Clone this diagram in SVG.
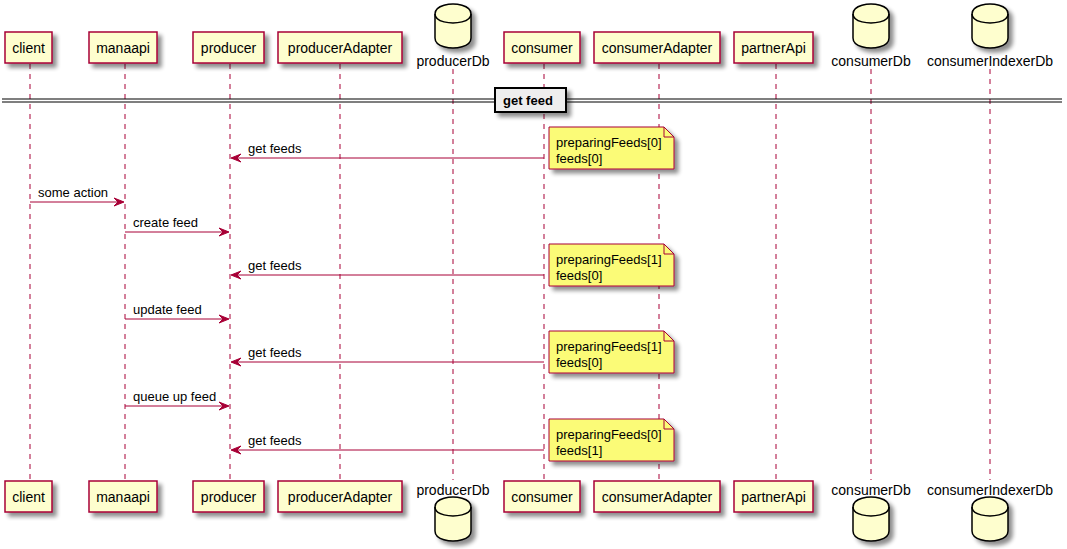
<svg xmlns="http://www.w3.org/2000/svg" width="1067" height="549" viewBox="0 0 1067 549">
<defs>
<filter id="sh" x="-20%" y="-20%" width="150%" height="160%">
<feGaussianBlur in="SourceAlpha" stdDeviation="2"/>
<feOffset dx="4" dy="4" result="b"/>
<feComponentTransfer><feFuncA type="linear" slope="0.45"/></feComponentTransfer>
<feMerge><feMergeNode/><feMergeNode in="SourceGraphic"/></feMerge>
</filter>
</defs>
<style>
text{font-family:"Liberation Sans",Arial,sans-serif;font-size:13px;fill:#000}
.p{fill:#FEFECE;stroke:#A80036;stroke-width:1.5}
.life{stroke:#A80036;stroke-width:1;stroke-dasharray:5,5}
.m{stroke:#A80036;stroke-width:1;fill:none}
.ah{fill:#A80036;stroke:#A80036;stroke-width:1}
.note{fill:#FBFB77;stroke:#A80036;stroke-width:1}
.fold{fill:none;stroke:#A80036;stroke-width:1}
.dbl{fill:none;stroke:#000;stroke-width:1.5}
.db{fill:#FEFECE;stroke:#000;stroke-width:1.5}
.c{text-anchor:middle;font-size:14px}
</style>
<rect width="1067" height="549" fill="#fff"/>
<g id="lifelines">
<line class="life" x1="30" y1="64" x2="30" y2="480"/>
<line class="life" x1="125" y1="64" x2="125" y2="480"/>
<line class="life" x1="230" y1="64" x2="230" y2="480"/>
<line class="life" x1="340" y1="64" x2="340" y2="480"/>
<line class="life" x1="453" y1="69" x2="453" y2="480"/>
<line class="life" x1="544" y1="64" x2="544" y2="480"/>
<line class="life" x1="659" y1="64" x2="659" y2="480"/>
<line class="life" x1="776" y1="64" x2="776" y2="480"/>
<line class="life" x1="871" y1="69" x2="871" y2="480"/>
<line class="life" x1="990" y1="69" x2="990" y2="480"/>
</g>
<g id="client">
<rect class="p" x="5" y="32" width="47" height="31" filter="url(#sh)"/>
<text class="c" x="28.5" y="53">client</text>
<rect class="p" x="5" y="481" width="47" height="31" filter="url(#sh)"/>
<text class="c" x="28.5" y="502">client</text>
</g>
<g id="manaapi">
<rect class="p" x="89" y="32" width="68" height="31" filter="url(#sh)"/>
<text class="c" x="123" y="53">manaapi</text>
<rect class="p" x="89" y="481" width="68" height="31" filter="url(#sh)"/>
<text class="c" x="123" y="502">manaapi</text>
</g>
<g id="producer">
<rect class="p" x="193" y="32" width="71" height="31" filter="url(#sh)"/>
<text class="c" x="228.5" y="53">producer</text>
<rect class="p" x="193" y="481" width="71" height="31" filter="url(#sh)"/>
<text class="c" x="228.5" y="502">producer</text>
</g>
<g id="producerAdapter">
<rect class="p" x="278" y="32" width="124" height="31" filter="url(#sh)"/>
<text class="c" x="340" y="53">producerAdapter</text>
<rect class="p" x="278" y="481" width="124" height="31" filter="url(#sh)"/>
<text class="c" x="340" y="502">producerAdapter</text>
</g>
<g id="producerDb">
<path class="db" filter="url(#sh)" d="M435,14 C435,4 453,4 453,4 C453,4 471,4 471,14 L471,38 C471,48 453,48 453,48 C453,48 435,48 435,38 Z"/>
<path class="dbl" d="M435,14 C435,23 453,23 453,23 C453,23 471,23 471,14"/>
<text class="c" x="453" y="66">producerDb</text>
<text class="c" x="453" y="495">producerDb</text>
<path class="db" filter="url(#sh)" d="M435,507 C435,497 453,497 453,497 C453,497 471,497 471,507 L471,531 C471,541 453,541 453,541 C453,541 435,541 435,531 Z"/>
<path class="dbl" d="M435,507 C435,516 453,516 453,516 C453,516 471,516 471,507"/>
</g>
<g id="consumer">
<rect class="p" x="504" y="32" width="76" height="31" filter="url(#sh)"/>
<text class="c" x="542" y="53">consumer</text>
<rect class="p" x="504" y="481" width="76" height="31" filter="url(#sh)"/>
<text class="c" x="542" y="502">consumer</text>
</g>
<g id="consumerAdapter">
<rect class="p" x="594" y="32" width="126" height="31" filter="url(#sh)"/>
<text class="c" x="657" y="53">consumerAdapter</text>
<rect class="p" x="594" y="481" width="126" height="31" filter="url(#sh)"/>
<text class="c" x="657" y="502">consumerAdapter</text>
</g>
<g id="partnerApi">
<rect class="p" x="734" y="32" width="79" height="31" filter="url(#sh)"/>
<text class="c" x="773.5" y="53">partnerApi</text>
<rect class="p" x="734" y="481" width="79" height="31" filter="url(#sh)"/>
<text class="c" x="773.5" y="502">partnerApi</text>
</g>
<g id="consumerDb">
<path class="db" filter="url(#sh)" d="M853,14 C853,4 871,4 871,4 C871,4 889,4 889,14 L889,38 C889,48 871,48 871,48 C871,48 853,48 853,38 Z"/>
<path class="dbl" d="M853,14 C853,23 871,23 871,23 C871,23 889,23 889,14"/>
<text class="c" x="871" y="66">consumerDb</text>
<text class="c" x="871" y="495">consumerDb</text>
<path class="db" filter="url(#sh)" d="M853,507 C853,497 871,497 871,497 C871,497 889,497 889,507 L889,531 C889,541 871,541 871,541 C871,541 853,541 853,531 Z"/>
<path class="dbl" d="M853,507 C853,516 871,516 871,516 C871,516 889,516 889,507"/>
</g>
<g id="consumerIndexerDb">
<path class="db" filter="url(#sh)" d="M972,14 C972,4 990,4 990,4 C990,4 1008,4 1008,14 L1008,38 C1008,48 990,48 990,48 C990,48 972,48 972,38 Z"/>
<path class="dbl" d="M972,14 C972,23 990,23 990,23 C990,23 1008,23 1008,14"/>
<text class="c" x="990" y="66">consumerIndexerDb</text>
<text class="c" x="990" y="495">consumerIndexerDb</text>
<path class="db" filter="url(#sh)" d="M972,507 C972,497 990,497 990,497 C990,497 1008,497 1008,507 L1008,531 C1008,541 990,541 990,541 C990,541 972,541 972,531 Z"/>
<path class="dbl" d="M972,507 C972,516 990,516 990,516 C990,516 1008,516 1008,507"/>
</g>
<g id="divider">
<line x1="2" y1="99" x2="1062" y2="99" stroke="#000" stroke-width="1.2"/>
<line x1="2" y1="102" x2="1062" y2="102" stroke="#000" stroke-width="1.2"/>
<rect x="495" y="88" width="71" height="24" fill="#EEEEEE" stroke="#000" stroke-width="2" filter="url(#sh)"/>
<text x="503" y="105" style="font-weight:bold">get feed</text>
</g>
<g id="connectors">
<line class="m" x1="544" y1="158" x2="232" y2="158"/>
<polygon class="ah" points="231,158 241,154 237,158 241,162"/>
<text x="248" y="153">get feeds</text>
<line class="m" x1="30" y1="202" x2="123" y2="202"/>
<polygon class="ah" points="124,202 114,198 118,202 114,206"/>
<text x="38" y="197">some action</text>
<line class="m" x1="125" y1="232" x2="228" y2="232"/>
<polygon class="ah" points="229,232 219,228 223,232 219,236"/>
<text x="133" y="227">create feed</text>
<line class="m" x1="544" y1="275" x2="232" y2="275"/>
<polygon class="ah" points="231,275 241,271 237,275 241,279"/>
<text x="248" y="270">get feeds</text>
<line class="m" x1="125" y1="319" x2="228" y2="319"/>
<polygon class="ah" points="229,319 219,315 223,319 219,323"/>
<text x="133" y="314">update feed</text>
<line class="m" x1="544" y1="362" x2="232" y2="362"/>
<polygon class="ah" points="231,362 241,358 237,362 241,366"/>
<text x="248" y="357">get feeds</text>
<line class="m" x1="125" y1="406" x2="228" y2="406"/>
<polygon class="ah" points="229,406 219,402 223,406 219,410"/>
<text x="133" y="401">queue up feed</text>
<line class="m" x1="544" y1="450" x2="232" y2="450"/>
<polygon class="ah" points="231,450 241,446 237,450 241,454"/>
<text x="248" y="445">get feeds</text>
</g>
<g id="note1">
<path class="note" filter="url(#sh)" d="M549,127 L664,127 L674,137 L674,169 L549,169 Z"/>
<path class="fold" d="M664,127 L664,137 L674,137"/>
<text x="556" y="147">preparingFeeds[0]</text>
<text x="556" y="163">feeds[0]</text>
</g>
<g id="note2">
<path class="note" filter="url(#sh)" d="M549,244 L664,244 L674,254 L674,286 L549,286 Z"/>
<path class="fold" d="M664,244 L664,254 L674,254"/>
<text x="556" y="264">preparingFeeds[1]</text>
<text x="556" y="280">feeds[0]</text>
</g>
<g id="note3">
<path class="note" filter="url(#sh)" d="M549,331 L664,331 L674,341 L674,373 L549,373 Z"/>
<path class="fold" d="M664,331 L664,341 L674,341"/>
<text x="556" y="351">preparingFeeds[1]</text>
<text x="556" y="367">feeds[0]</text>
</g>
<g id="note4">
<path class="note" filter="url(#sh)" d="M549,419 L664,419 L674,429 L674,461 L549,461 Z"/>
<path class="fold" d="M664,419 L664,429 L674,429"/>
<text x="556" y="439">preparingFeeds[0]</text>
<text x="556" y="455">feeds[1]</text>
</g>
</svg>
